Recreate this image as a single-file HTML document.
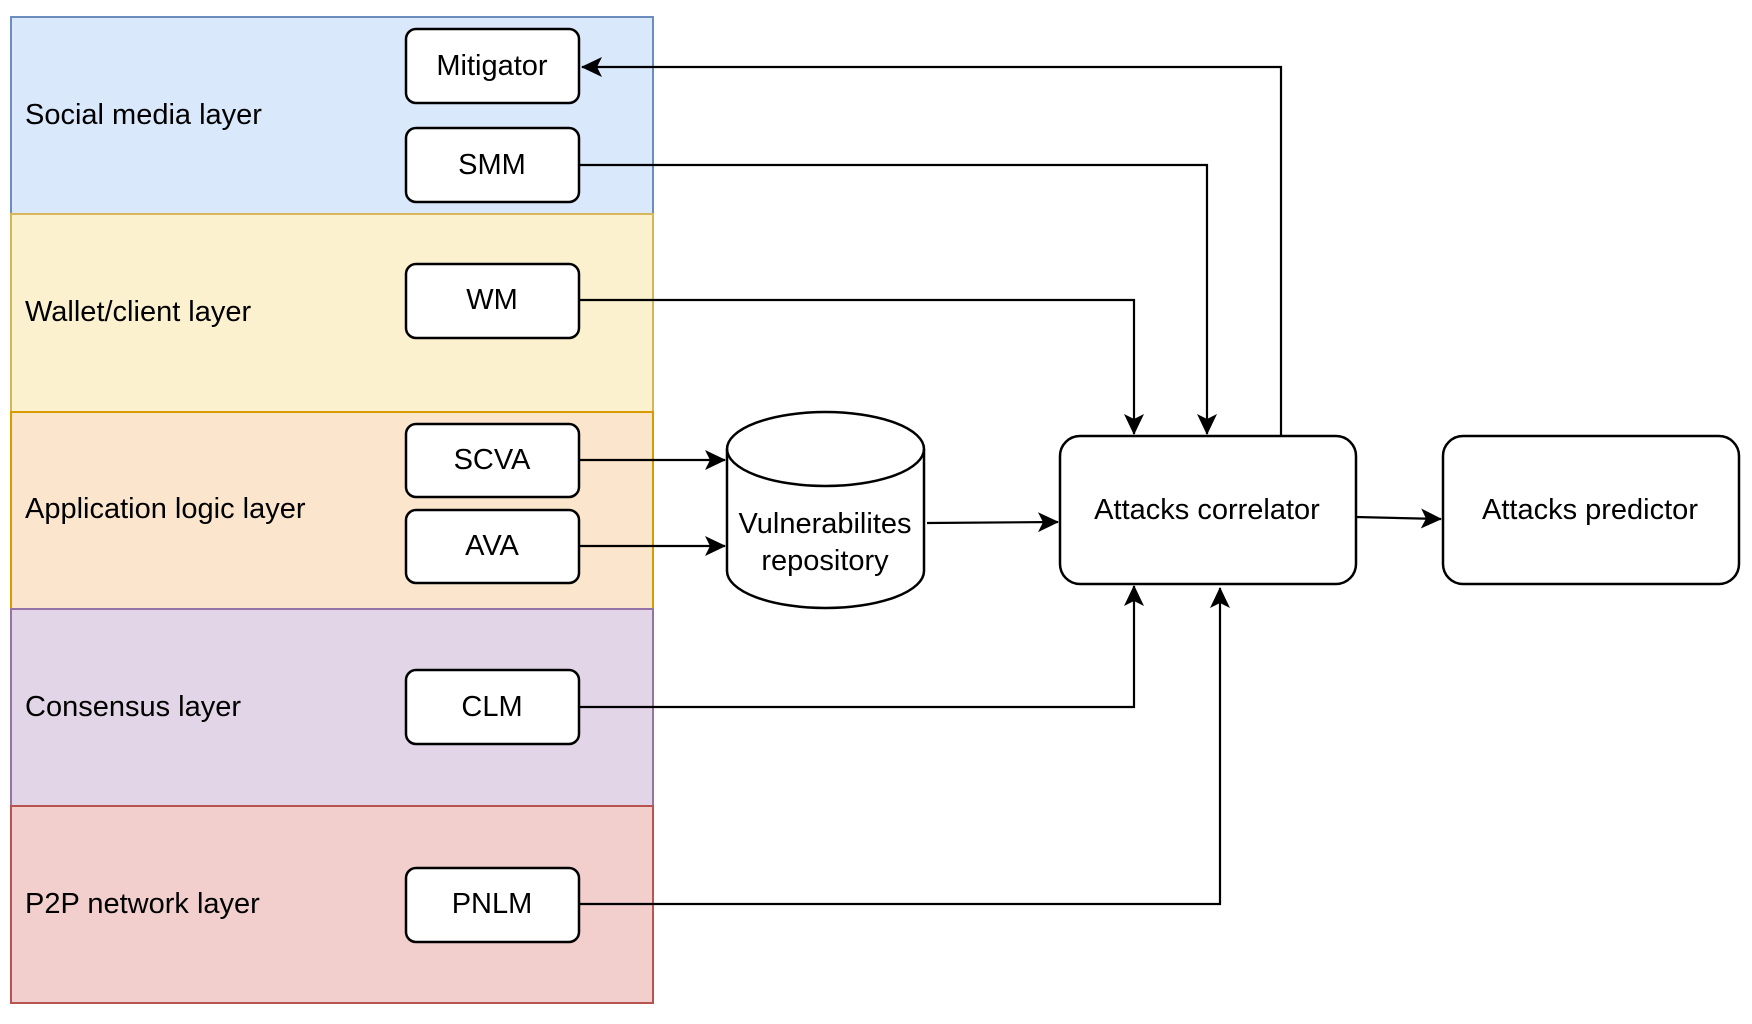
<!DOCTYPE html>
<html><head><meta charset="utf-8"><style>
html,body{margin:0;padding:0;background:#fff;}
svg{display:block;}
text{font-family:"Liberation Sans",Arial,sans-serif;font-size:29px;fill:#000;}
</style></head><body>
<svg width="1752" height="1024" viewBox="0 0 1752 1024" xmlns="http://www.w3.org/2000/svg">
<defs>
<marker id="b" markerWidth="22" markerHeight="22" refX="20" refY="11" orient="auto" markerUnits="userSpaceOnUse">
<path d="M0,1 L21,11 L0,21 L5,11 Z" fill="#000"/>
</marker>
</defs>
<rect x="11" y="17" width="642" height="197" fill="#dae8fc" stroke="#6c8ebf" stroke-width="2"/>
<rect x="11" y="214" width="642" height="198" fill="#fcf1cf" stroke="#d6b656" stroke-width="2"/>
<rect x="11" y="412" width="642" height="197" fill="#fbe6cd" stroke="#d79b00" stroke-width="2"/>
<rect x="11" y="609" width="642" height="197" fill="#e1d5e7" stroke="#9673a6" stroke-width="2"/>
<rect x="11" y="806" width="642" height="197" fill="#f2cfcd" stroke="#b85450" stroke-width="2"/>
<text x="25" y="124">Social media layer</text>
<text x="25" y="321">Wallet/client layer</text>
<text x="25" y="518">Application logic layer</text>
<text x="25" y="716">Consensus layer</text>
<text x="25" y="913">P2P network layer</text>
<g fill="#fff" stroke="#000" stroke-width="2.5">
<rect x="406" y="29" width="173" height="74" rx="10"/>
<rect x="406" y="128" width="173" height="74" rx="10"/>
<rect x="406" y="264" width="173" height="74" rx="10"/>
<rect x="406" y="424" width="173" height="73" rx="10"/>
<rect x="406" y="510" width="173" height="73" rx="10"/>
<rect x="406" y="670" width="173" height="74" rx="10"/>
<rect x="406" y="868" width="173" height="74" rx="10"/>
<rect x="1060" y="436" width="296" height="148" rx="20"/>
<rect x="1443" y="436" width="296" height="148" rx="20"/>
<path d="M727,449 L727,571 A98.5,37 0 0 0 924,571 L924,449 A98.5,37 0 0 0 727,449 Z"/>
<path d="M727,449 A98.5,37 0 0 0 924,449" fill="none"/>
</g>
<g text-anchor="middle">
<text x="492" y="75">Mitigator</text>
<text x="492" y="174">SMM</text>
<text x="492" y="309">WM</text>
<text x="492" y="469">SCVA</text>
<text x="492" y="555">AVA</text>
<text x="492" y="716">CLM</text>
<text x="492" y="913">PNLM</text>
<text x="1207" y="519">Attacks correlator</text>
<text x="1590" y="519">Attacks predictor</text>
<text x="825" y="533">Vulnerabilites</text>
<text x="825" y="570">repository</text>
</g>
<g fill="none" stroke="#000" stroke-width="2.2">
<path d="M1281,436 L1281,67 L582,67" marker-end="url(#b)"/>
<path d="M579,165 L1207,165 L1207,434" marker-end="url(#b)"/>
<path d="M579,300 L1134,300 L1134,434" marker-end="url(#b)"/>
<path d="M579,707 L1134,707 L1134,586" marker-end="url(#b)"/>
<path d="M579,904 L1220,904 L1220,588" marker-end="url(#b)"/>
<path d="M579,460 L725,460" marker-end="url(#b)"/>
<path d="M579,546 L725,546" marker-end="url(#b)"/>
<path d="M927,523 L1058,522" marker-end="url(#b)"/>
<path d="M1356,517 L1441,519" marker-end="url(#b)"/>
</g>
</svg>
</body></html>
